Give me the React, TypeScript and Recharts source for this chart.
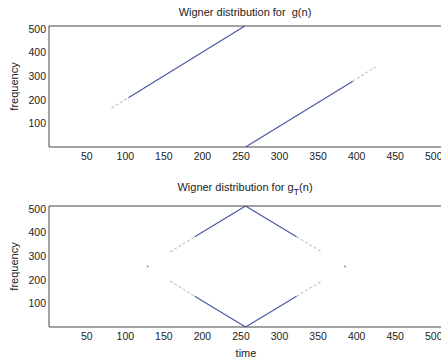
import { ComposedChart, Line, XAxis, YAxis, Label } from "recharts";

const TIME_TICKS = [50, 100, 150, 200, 250, 300, 350, 400, 450, 500];
const FREQ_TICKS = [100, 200, 300, 400, 500];

// top panel: two chirp branches of g(n)
const upperChirpTime = [82, 104, 255];
const upperChirpFreq = [165, 209, 512];
const lowerChirpTime = [256, 395, 425];
const lowerChirpFreq = [1, 279, 340];

// bottom panel: diamond of g_T(n) plus two isolated points
const diamondTime = [158, 190, 256, 322, 355];
const diamondUpperFreq = [318, 382, 512, 382, 318];
const diamondLowerFreq = [195, 131, 1, 131, 195];
const aliasTime = [129, 385];
const aliasFreq = [256, 256];

const LINE = "#34479a";
const AXIS = "#444";
const FONT = "'Liberation Sans', Arial, Helvetica, sans-serif";
const W = 441;
const CHART_W = 443; // right box edge sits just outside the window, as in the original

const pts = (t: number[], f: number[], from: number, to: number) =>
  t.slice(from, to + 1).map((x, i) => ({ t: x, f: f[from + i] }));

const Seg = ({ data, faint }: { data: { t: number; f: number }[]; faint?: boolean }) => (
  <Line
    data={data}
    dataKey="f"
    xAxisId="b"
    yAxisId="l"
    type="linear"
    stroke={LINE}
    strokeWidth={1.2}
    strokeOpacity={faint ? 0.3 : 0.9}
    strokeDasharray={faint ? "3 2" : undefined}
    dot={false}
    isAnimationActive={false}
  />
);

const Axes = ({ xLabel }: { xLabel?: string }) => {
  const tick = { fontSize: 10.5, fill: "#222", fontFamily: FONT };
  return [
    <XAxis
      key="xb"
      xAxisId="b"
      type="number"
      dataKey="t"
      domain={[1, 512]}
      ticks={TIME_TICKS}
      allowDataOverflow
      tickLine={false}
      tickSize={0}
      tickMargin={6}
      axisLine={{ stroke: AXIS }}
      tick={tick}
      height={30}
    >
      {xLabel && (
        <Label value={xLabel} position="insideBottom" offset={0} style={{ fontSize: 11, fill: "#222", fontFamily: FONT }} />
      )}
    </XAxis>,
    <XAxis key="xbi" xAxisId="bi" type="number" domain={[1, 512]} ticks={TIME_TICKS} orientation="bottom" mirror tick={false} tickSize={4} axisLine={false} tickLine={{ stroke: AXIS }} />,
    <XAxis key="xt" xAxisId="t" type="number" domain={[1, 512]} ticks={TIME_TICKS} orientation="top" mirror tick={false} tickSize={4} axisLine={{ stroke: AXIS }} tickLine={{ stroke: AXIS }} />,
    <YAxis
      key="yl"
      yAxisId="l"
      type="number"
      domain={[1, 512]}
      ticks={FREQ_TICKS}
      allowDataOverflow
      width={49}
      tickLine={false}
      tickSize={0}
      tickMargin={3}
      axisLine={{ stroke: AXIS }}
      tick={tick}
    >
      <Label value="frequency" angle={-90} position="insideLeft" offset={14} style={{ fontSize: 11, fill: "#222", fontFamily: FONT, textAnchor: "middle" }} />
    </YAxis>,
    <YAxis key="yli" yAxisId="li" type="number" domain={[1, 512]} ticks={FREQ_TICKS} orientation="left" mirror tick={false} tickSize={4} axisLine={false} tickLine={{ stroke: AXIS }} />,
    <YAxis key="yr" yAxisId="r" type="number" domain={[1, 512]} ticks={FREQ_TICKS} orientation="right" mirror tick={false} tickSize={4} axisLine={{ stroke: AXIS }} tickLine={{ stroke: AXIS }} />,
  ];
};

const titleStyle = (top: number): React.CSSProperties => ({
  position: "absolute",
  top,
  left: 49,
  width: W - 49,
  textAlign: "center",
  fontFamily: FONT,
  fontSize: 11,
  lineHeight: "11px",
  color: "#222",
  whiteSpace: "pre",
});

export default function App() {
  return (
    <div style={{ position: "absolute", left: 0, top: 0, width: W, height: 359, background: "#fff", overflow: "hidden" }}>
      <div style={titleStyle(7)}>Wigner distribution for  g(n)</div>
      <div style={{ position: "absolute", left: 0, top: 0 }}>
        <ComposedChart width={CHART_W} height={180} margin={{ top: 26, right: 0, bottom: 3, left: 0 }}>
          {Axes({})}
          <Seg data={pts(upperChirpTime, upperChirpFreq, 0, 1)} faint />
          <Seg data={pts(upperChirpTime, upperChirpFreq, 1, 2)} />
          <Seg data={pts(lowerChirpTime, lowerChirpFreq, 0, 1)} />
          <Seg data={pts(lowerChirpTime, lowerChirpFreq, 1, 2)} faint />
        </ComposedChart>
      </div>

      <div style={titleStyle(182)}>
        Wigner distribution for g<sub style={{ fontSize: 9, verticalAlign: "-4px" }}>T</sub>(n)
      </div>
      <div style={{ position: "absolute", left: 0, top: 180 }}>
        <ComposedChart width={CHART_W} height={179} margin={{ top: 26, right: 0, bottom: 2, left: 0 }}>
          {Axes({ xLabel: "time" })}
          <Seg data={pts(diamondTime, diamondUpperFreq, 0, 1)} faint />
          <Seg data={pts(diamondTime, diamondUpperFreq, 1, 3)} />
          <Seg data={pts(diamondTime, diamondUpperFreq, 3, 4)} faint />
          <Seg data={pts(diamondTime, diamondLowerFreq, 0, 1)} faint />
          <Seg data={pts(diamondTime, diamondLowerFreq, 1, 3)} />
          <Seg data={pts(diamondTime, diamondLowerFreq, 3, 4)} faint />
          <Line
            data={pts(aliasTime, aliasFreq, 0, 1)}
            dataKey="f"
            xAxisId="b"
            yAxisId="l"
            stroke="none"
            dot={{ r: 1, fill: LINE, stroke: "none", fillOpacity: 0.6 }}
            isAnimationActive={false}
          />
        </ComposedChart>
      </div>
    </div>
  );
}
